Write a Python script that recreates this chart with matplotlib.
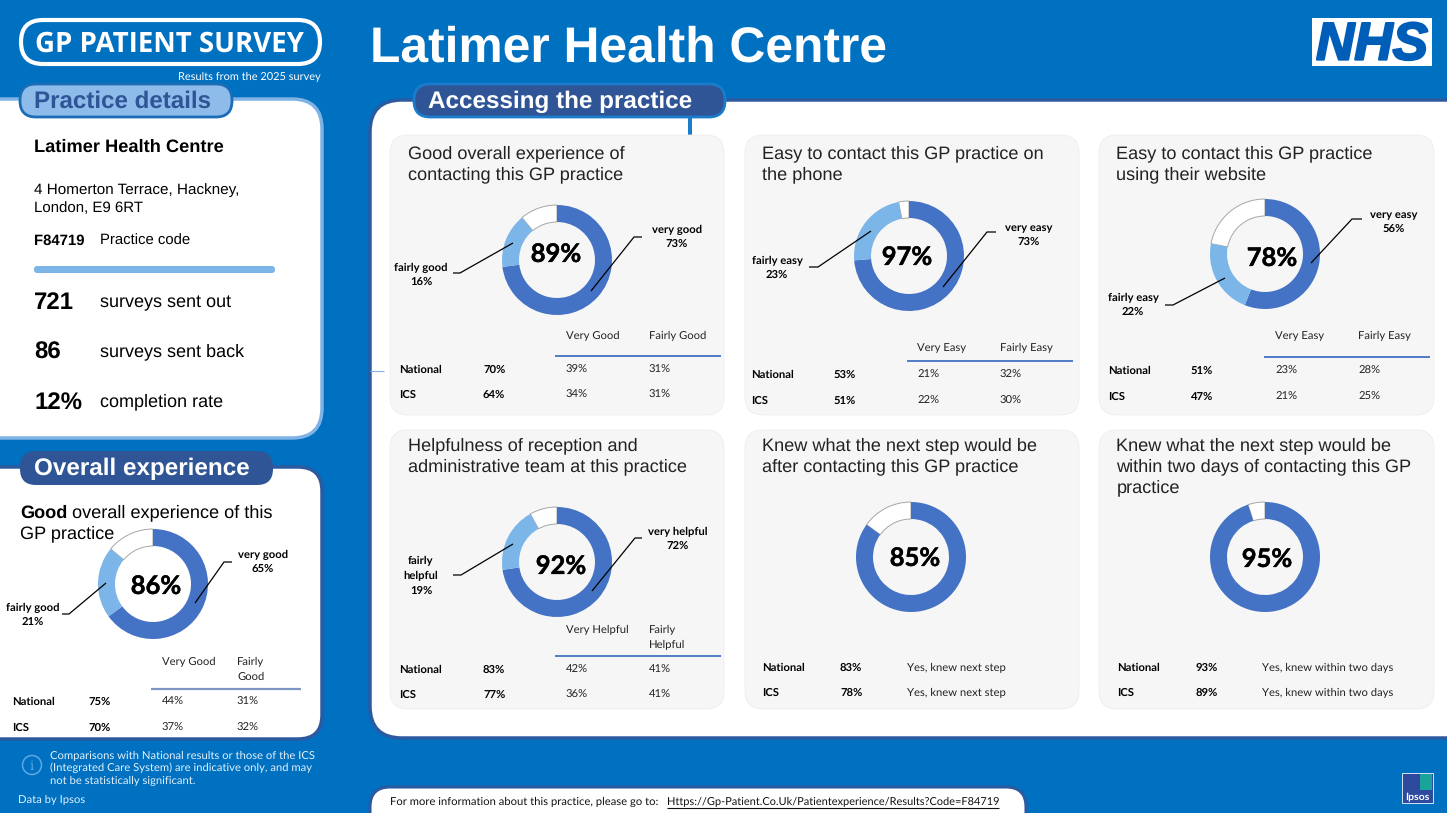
import matplotlib
matplotlib.use("Agg")
import matplotlib.pyplot as plt
import matplotlib.patheffects as pe
from matplotlib.patches import FancyBboxPatch, Rectangle, Circle

plt.rcParams["text.hinting"] = "no_hinting"
plt.rcParams["text.hinting_factor"] = 8

# ---------- data ----------
practice_name = "Latimer Health Centre"
address = ["4 Homerton Terrace, Hackney,", "London, E9 6RT"]
practice_code = "F84719"
survey_counts = ["721", "86", "12%"]
survey_labels = ["surveys sent out", "surveys sent back", "completion rate"]

panel_titles = [
    ["Good overall experience of", "contacting this GP practice"],
    ["Easy to contact this GP practice on", "the phone"],
    ["Easy to contact this GP practice", "using their website"],
    ["Helpfulness of reception and", "administrative team at this practice"],
    ["Knew what the next step would be", "after contacting this GP practice"],
    ["Knew what the next step would be", "within two days of contacting this GP", "practice"],
]
totals = [89, 97, 78, 92, 85, 95]
top_share = [73, 73, 56, 72, 85, 95]
second_share = [16, 23, 22, 19, 0, 0]
top_labels = ["very good\n73%", "very easy\n73%", "very easy\n56%", "very helpful\n72%", None, None]
second_labels = ["fairly good\n16%", "fairly easy\n23%", "fairly easy\n22%", "fairly\nhelpful\n19%", None, None]
col_heads = [("Very Good", "Fairly Good"), ("Very Easy", "Fairly Easy"), ("Very Easy", "Fairly Easy"),
             ("Very Helpful", "Fairly\nHelpful"), None, None]
national_total = ["70%", "53%", "51%", "83%", "83%", "93%"]
ics_total = ["64%", "51%", "47%", "77%", "78%", "89%"]
national_split = [("39%", "31%"), ("21%", "32%"), ("23%", "28%"), ("42%", "41%"),
                  ("Yes, knew next step", ""), ("Yes, knew within two days", "")]
ics_split = [("34%", "31%"), ("22%", "30%"), ("21%", "25%"), ("36%", "41%"),
             ("Yes, knew next step", ""), ("Yes, knew within two days", "")]

overall_total = 86
overall_top = 65
overall_second = 21
overall_heads = ("Very Good", "Fairly\nGood")
overall_national = ("75%", "44%", "31%")
overall_ics = ("70%", "37%", "32%")

# ---------- layout ----------
W, H = 1447, 813
BLUE, NAVY, DARK, LIGHT = "#0070C0", "#2F5597", "#4472C4", "#7CB5E8"
EDGE = "#2B5AA0"
ARIAL = "Liberation Sans"
CAL = "Lato"
SMALL = 11.2

panel_boxes = [(390, 135, 724, 415), (745, 135, 1079, 415), (1099, 135, 1434, 415),
               (390, 430, 724, 709), (745, 430, 1079, 709), (1099, 430, 1434, 709)]
title_y = [153, 153, 153, 445, 445, 445]
donut_xy = [(557, 260), (909, 256), (1265, 254), (557, 562), (911, 557), (1265, 557)]
center_label_xy = [(556, 253), (907, 256), (1272, 257), (561, 565), (915, 557), (1267, 558)]
top_label_xy = [(677, 236), (1029, 234), (1394, 221), (678, 538), None, None]
second_label_xy = [(421, 274), (777, 267), (1133, 304), (421, 575), None, None]
top_leader = [[(591, 291), (634, 237), (642, 237)], [(943, 287), (987, 232), (996, 232)],
              [(1311, 263), (1352, 219), (1362, 219)], [(592, 591), (635, 538), (642, 538)], None, None]
second_leader = [[(513, 243), (460, 273), (453, 273)], [(871, 231), (818, 267), (809, 267)],
                 [(1225, 278), (1173, 305), (1165, 305)], [(513, 544), (461, 575), (453, 575)], None, None]
table_x = [(399, 483, 566, 649), (751, 834, 917, 1000), (1108, 1191, 1275, 1358),
           (399, 483, 566, 649), (762, 840, 907, 0), (1117, 1196, 1262, 0)]
table_y = [(369, 394), (374, 400), (370, 396), (669, 694), (667, 692), (667, 692)]
head_y = [335, 347, 335, 629, None, None]
rule = [(555, 721, 356), (907, 1073, 361), (1264, 1430, 357), (555, 721, 656), None, None]

fig = plt.figure(figsize=(W / 100, H / 100), dpi=100, facecolor=BLUE)
ax = fig.add_axes([0, 0, 1, 1])
ax.set_axis_off()


def Y(y):
    return H - y


def px(s):
    return s * 0.72


def txt(x, y, s, size, color="black", weight="normal", family=CAL, ha="left", z=6, step=None, **kw):
    parts = s.split("\n")
    step = step or size * 1.25
    shift = -1 if family == ARIAL and size >= 18 else 0
    first = None
    for j, part in enumerate(parts):
        base = y + shift + 0.35 * size + (j - (len(parts) - 1) / 2) * step
        t = ax.text(x, Y(base), part, fontsize=px(size), color=color, fontweight=weight, family=family,
                    ha=ha, va="baseline", zorder=z, **kw)
        first = first or t
    return first


def rr(x0, y0, x1, y1, r, fc, ec="none", lw=0, z=2):
    ax.add_patch(FancyBboxPatch((x0, Y(y1)), x1 - x0, y1 - y0, boxstyle=f"round,pad=0,rounding_size={r}",
                                fc=fc, ec=ec, lw=lw, zorder=z))


def line(points, color="black", lw=0.9, z=5):
    ax.plot([p[0] for p in points], [Y(p[1]) for p in points], color=color, lw=lw, zorder=z,
            solid_capstyle="butt")


def donut(center, top, second, total, label_xy, radius=55, width=17):
    rest = 100 - total
    vals = [top, second, rest] if second else [top, rest]
    cols = [DARK, LIGHT, "white"] if second else [DARK, "white"]
    wedges, _ = ax.pie(vals, colors=cols, startangle=90, counterclock=False, radius=radius,
                       center=(center[0], Y(center[1])),
                       wedgeprops=dict(width=width, linewidth=0))
    for w in wedges:
        w.set_zorder(4)
    wedges[-1].set_edgecolor("#a6a6a6")
    wedges[-1].set_linewidth(0.7)
    wedges[-1].set_zorder(3.9)
    txt(label_xy[0], label_xy[1], f"{total}%", 25.5, weight="bold", ha="center",
        path_effects=[pe.withStroke(linewidth=0.3, foreground="black")])


# ---------- header ----------
rr(21, 20, 320, 64, 22, "none", "white", 3.0, z=3)
txt(169, 42, "GP PATIENT SURVEY", 27.6, "white", "bold", "Open Sans", ha="center")
txt(321, 76, "Results from the 2025 survey", 11, "white", ha="right")
txt(370, 45, practice_name, 49.8, "white", "bold", ARIAL)
ax.add_patch(Rectangle((1312, Y(66)), 120, 48, fc="white", ec="none", zorder=3))
txt(1372, 42, "NHS", 53, "#005EB8", "bold", ARIAL, ha="center", style="italic",
    path_effects=[pe.withStroke(linewidth=1.6, foreground="#005EB8")])

# ---------- left panels ----------
rr(-30, 99, 322, 438, 30, "white", "#7FB2E5", 2.5)
rr(-30, 467, 322, 739, 24, "white", EDGE, 2.5)
rr(20, 84, 232, 117, 16, "#8DBBEA", "#1B6DB5", 2, z=3)
txt(34, 100, "Practice details", 24.15, NAVY, "bold", ARIAL)
rr(20, 451, 273, 485, 16, NAVY, "none", 0, z=3)
txt(34, 468, "Overall experience", 24.2, "white", "bold", ARIAL)

txt(34, 146, practice_name, 18.3, "black", "bold", ARIAL)
txt(34, 189, address[0], 15.2, family=ARIAL)
txt(34, 207, address[1], 15.0, family=ARIAL)
txt(34, 240, practice_code, 14.9, weight="bold", family=ARIAL)
txt(100, 240, "Practice code", 14.9, family=ARIAL)
rr(34, 266, 275, 273, 3, LIGHT, z=3)
for yy, c, l in zip((301.5, 351, 401), survey_counts, survey_labels):
    txt(34, yy, c, 24, weight="bold", family=ARIAL)
    txt(100, yy, l, 18.05, family=ARIAL)

good = txt(20, 512, "Good", 18.15, weight="bold", family=ARIAL)
fig.canvas.draw()
good_w = good.get_window_extent().width
txt(20 + good_w, 512, " overall experience of this", 18.15, family=ARIAL)
txt(20, 533, "GP practice", 18.15, family=ARIAL)

donut((153, 584), overall_top, overall_second, overall_total, (156, 585))
txt(263, 561, f"very good\n{overall_top}%", SMALL, weight="bold", ha="center", step=14)
txt(33, 614, f"fairly good\n{overall_second}%", SMALL, weight="bold", ha="center", step=14)
line([(195, 603), (224, 562), (232, 562)])
line([(106, 583), (69, 614), (62, 614)])
txt(162, 661, overall_heads[0], SMALL, "#222222")
txt(237, 668.5, overall_heads[1], SMALL, "#222222", step=15)
line([(151, 688.5), (301, 688.5)], "#7F95C4", 1.6)
for yy, lab, row in ((701, "National", overall_national), (727, "ICS", overall_ics)):
    txt(12, yy, lab, SMALL, weight="bold")
    txt(88, yy, row[0], SMALL, weight="bold")
    txt(162, yy, row[1], SMALL, "#222222")
    txt(237, yy, row[2], SMALL, "#222222")

# ---------- main panel ----------
rr(370, 100, 1520, 738, 32, "white", EDGE, 2.5)
rr(414, 84, 725, 117, 16, NAVY, "#1B7CCB", 2, z=3)
txt(428, 100, "Accessing the practice", 24.2, "white", "bold", ARIAL)
ax.add_patch(Rectangle((688, Y(135)), 4, 17, fc="#1B7CCB", ec="none", zorder=2.5))
line([(370, 371), (384, 371)], "#7FB2E5", 0.8, z=2.5)

for i in range(6):
    x0, y0, x1, y1 = panel_boxes[i]
    rr(x0, y0, x1, y1, 18, "#F6F6F6", "#EDEDED", 0.6, z=3)
    for j, t in enumerate(panel_titles[i]):
        txt(x0 + 17.5, title_y[i] + j * 21.2, t, 18.1, "#222222", family=ARIAL)
    donut(donut_xy[i], top_share[i], second_share[i], totals[i], center_label_xy[i])
    if top_labels[i]:
        txt(*top_label_xy[i], top_labels[i], SMALL, weight="bold", ha="center", step=14)
        txt(*second_label_xy[i], second_labels[i], SMALL, weight="bold", ha="center", step=14.5)
        line(top_leader[i])
        line(second_leader[i])
    tx = table_x[i]
    if col_heads[i]:
        a, b = col_heads[i]
        txt(tx[2], head_y[i], a, SMALL, "#222222")
        two = "\n" in b
        txt(tx[3], head_y[i] + (7.5 if two else 0), b, SMALL, "#222222", step=15)
        r = rule[i]
        line([(r[0], r[2]), (r[1], r[2])], DARK, 1.3)
    for yy, lab, tot, split in ((table_y[i][0], "National", national_total[i], national_split[i]),
                                (table_y[i][1], "ICS", ics_total[i], ics_split[i])):
        txt(tx[0], yy, lab, SMALL, weight="bold")
        txt(tx[1], yy, tot, SMALL, weight="bold")
        txt(tx[2], yy, split[0], SMALL, "#222222")
        if split[1]:
            txt(tx[3], yy, split[1], SMALL, "#222222")

# ---------- footer ----------
ax.add_patch(Circle((32, Y(765)), 9.5, fc="none", ec="#5FA8E6", lw=1.1, zorder=3))
txt(32, 765, "i", 13, "#5FA8E6", ha="center", family="DejaVu Serif")
for yy, s in zip((755, 767.5, 780), ("Comparisons with National results or those of the ICS",
                                     "(Integrated Care System) are indicative only, and may",
                                     "not be statistically significant.")):
    txt(50, yy, s, 11.25, "#E3F1FC")
txt(18, 799, "Data by Ipsos", SMALL, "#E3F1FC")

rr(370, 787, 1026, 840, 20, "white", EDGE, 2.2)
txt(390, 801, "For more information about this practice, please go to:", 11.23, "#111111")
txt(667, 801, "Https://Gp-Patient.Co.Uk/Patientexperience/Results?Code=F84719", 11.0, "#111111")
line([(667, 807.5), (999, 807.5)], "#111111", 0.8, z=6)

ax.add_patch(Rectangle((1402, Y(803)), 31, 30, fc="#2E4A9E", ec="#CFE6F5", lw=0.7, zorder=3))
ax.add_patch(Rectangle((1420, Y(790)), 12, 16, fc="#1AA39A", ec="none", zorder=3.1))
txt(1417, 796, "Ipsos", 10.5, "white", "bold", ha="center")

ax.set_xlim(0, W)
ax.set_ylim(0, H)
ax.set_aspect("auto")
fig.savefig("out.png", dpi=100, facecolor=BLUE)
